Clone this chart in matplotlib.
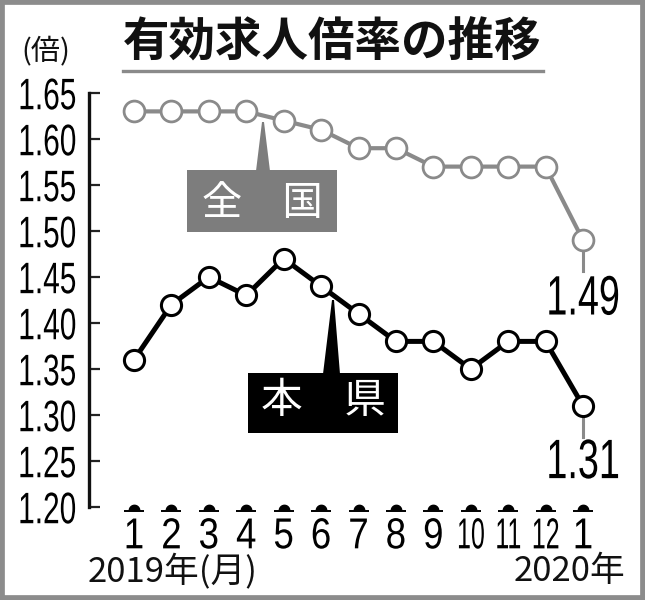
import matplotlib
matplotlib.use("Agg")
import matplotlib.pyplot as plt
from matplotlib.patches import Rectangle, Polygon
from matplotlib.path import Path
from matplotlib.lines import Line2D
from matplotlib.patheffects import AbstractPathEffect
from matplotlib.transforms import Affine2D, offset_copy
import numpy as np

# ---- data ----
months = list(range(1, 14))
month_labels = ["1", "2", "3", "4", "5", "6", "7", "8", "9", "10", "11", "12", "1"]
national = [1.63, 1.63, 1.63, 1.63, 1.62, 1.61, 1.59, 1.59, 1.57, 1.57, 1.57, 1.57, 1.49]
prefecture = [1.36, 1.42, 1.45, 1.43, 1.47, 1.44, 1.41, 1.38, 1.38, 1.35, 1.38, 1.38, 1.31]
yticks = [1.20, 1.25, 1.30, 1.35, 1.40, 1.45, 1.50, 1.55, 1.60, 1.65]
ytick_labels = ["1.20", "1.25", "1.30", "1.35", "1.40", "1.45", "1.50", "1.55", "1.60", "1.65"]
title = "有効求人倍率の推移"
unit = "(倍)"
label_nat = "全　国"
label_pref = "本　県"
x_left_note = "2019年(月)"
x_right_note = "2020年"

CJK = ["Noto Sans CJK JP", "DejaVu Sans"]
NUM = ["Liberation Sans", "DejaVu Sans"]


class Stretch(AbstractPathEffect):
    """Draw text with a tall, condensed look, keeping it a Text artist."""

    def __init__(self, sx, sy, anchor="center"):
        super().__init__()
        self.sx = sx
        self.sy = sy
        self.anchor = anchor

    def draw_path(self, renderer, gc, tpath, affine, rgbFace=None):
        ext = tpath.get_extents()
        if self.anchor == "left":
            cx = ext.x0
        elif self.anchor == "right":
            cx = ext.x1
        else:
            cx = (ext.x0 + ext.x1) / 2
        cy = (ext.y0 + ext.y1) / 2
        t = (Affine2D().translate(-cx, -cy).scale(self.sx, self.sy).translate(cx, cy)
             + affine)
        renderer.draw_path(gc, tpath, t, rgbFace)


W, H = 645, 600
fig = plt.figure(figsize=(W / 100, H / 100), dpi=100)
fig.patch.set_facecolor("white")

left_px, right_px, top_px, bot_px = 89, 620, 93, 507
ax = fig.add_axes([left_px / W, 1 - bot_px / H, (right_px - left_px) / W, (bot_px - top_px) / H])
x1_px, x13_px = 134, 583
step = (x13_px - x1_px) / 12
ax.set_xlim(1 - (x1_px - left_px) / step, 1 + (right_px - x1_px) / step)
ax.set_ylim(1.20, 1.65)
ax.patch.set_alpha(0)

for s in ["top", "right", "bottom"]:
    ax.spines[s].set_visible(False)
ax.spines["left"].set_linewidth(2.4)
ax.spines["left"].set_color("#111111")

ax.set_yticks(yticks)
ax.set_yticklabels(ytick_labels, fontfamily=NUM, fontsize=25)
ax.tick_params(axis="y", direction="in", length=8, width=1.6, color="#222222", pad=9)
for lbl in ax.get_yticklabels():
    lbl.set_path_effects([Stretch(0.86, 1.27, "right")])

ax.set_xticks(months)
ax.set_xticklabels(month_labels, fontfamily=NUM, fontsize=24)
ax.tick_params(axis="x", length=0, pad=10)
for lbl, txt in zip(ax.get_xticklabels(), month_labels):
    lbl.set_path_effects([Stretch(1.1 if len(txt) == 1 else 0.75, 1.3, "center")])

gray = "#8a8a8a"
ax.plot(months, national, color=gray, lw=3.0, zorder=3, clip_on=False)
ax.plot(months, national, linestyle="none", marker="o", markersize=15,
        markerfacecolor="white", markeredgecolor=gray, markeredgewidth=2.0, zorder=4, clip_on=False)
ax.plot(months, prefecture, color="black", lw=3.6, zorder=3, clip_on=False)
ax.plot(months, prefecture, linestyle="none", marker="o", markersize=14.5,
        markerfacecolor="white", markeredgecolor="black", markeredgewidth=2.2, zorder=4, clip_on=False)

# x tick decorations (small dome on a bar)
theta = np.linspace(0, np.pi, 20)
dome_verts = np.vstack([np.column_stack([np.cos(theta), np.sin(theta)]), [[-1, 0], [1, 0]]])
dome = Path(dome_verts)
tr_dome = offset_copy(ax.get_xaxis_transform(), fig=fig, y=-2.4, units="points")
tr_bar = offset_copy(ax.get_xaxis_transform(), fig=fig, y=-3.0, units="points")
ax.plot(months, [0] * len(months), linestyle="none", marker=dome, markersize=8.5,
        color="black", markeredgewidth=0, transform=tr_dome, clip_on=False)
ax.plot(months, [0] * len(months), linestyle="none", marker="_", markersize=14,
        markeredgewidth=1.4, color="black", transform=tr_bar, clip_on=False)


def px2x(px):
    return 1 + (px - x1_px) / step


def py2y(py):
    return 1.65 - (py - top_px) / (bot_px - top_px) * 0.45


# national label box
box_gray = "#7d7d7d"
ax.add_patch(Rectangle((px2x(187), py2y(232)), px2x(337) - px2x(187), py2y(170) - py2y(232),
                       facecolor=box_gray, edgecolor="none", zorder=5, clip_on=False))
ax.add_patch(Polygon([(px2x(256), py2y(171)), (px2x(270), py2y(171)), (px2x(264), py2y(122)),
                      (px2x(262), py2y(122))], closed=True, facecolor=box_gray,
                     edgecolor="none", zorder=5, clip_on=False))
ax.text(px2x(262), py2y(203), label_nat, fontfamily=CJK, fontsize=29, fontweight="normal",
        color="white", ha="center", va="center", zorder=6)

# prefecture label box
ax.add_patch(Rectangle((px2x(248), py2y(433)), px2x(398) - px2x(248), py2y(373) - py2y(433),
                       facecolor="black", edgecolor="none", zorder=5, clip_on=False))
ax.add_patch(Polygon([(px2x(323), py2y(374)), (px2x(340), py2y(374)), (px2x(334), py2y(300)),
                      (px2x(332), py2y(300))], closed=True, facecolor="black",
                     edgecolor="none", zorder=5, clip_on=False))
ax.text(px2x(323), py2y(401), label_pref, fontfamily=CJK, fontsize=30, fontweight="normal",
        color="white", ha="center", va="center", zorder=6)

# end value labels
for val, off in [(national[-1], 59), (prefecture[-1], 57)]:
    ax.plot([months[-1], months[-1]], [val - 0.011, val - 0.034], color=gray, lw=2.2,
            zorder=2, clip_on=False)
    t = ax.annotate(f"{val:.2f}", xy=(months[-1], val), xytext=(0, -off * 0.72),
                    textcoords="offset points", ha="center", va="center",
                    fontfamily=NUM, fontsize=32, color="black", zorder=6)
    t.set_path_effects([Stretch(0.85, 1.25, "center")])

# title & texts
fig.text(123 / W, 1 - 43 / H, title, fontfamily=CJK, fontsize=33.5, fontweight="bold",
         ha="left", va="center", color="#111111")
fig.add_artist(Line2D([123 / W, 543 / W], [1 - 71 / H, 1 - 71 / H], color="#8a8a8a", lw=2.4))
fig.text(46 / W, 1 - 51 / H, unit, fontfamily=CJK, fontsize=21, ha="center", va="center",
         color="#111111")
fig.text(88 / W, 1 - 572 / H, x_left_note, fontfamily=CJK, fontsize=25, ha="left",
         va="center", color="#111111")
fig.text(625 / W, 1 - 572 / H, x_right_note, fontfamily=CJK, fontsize=25, ha="right",
         va="center", color="#111111")

# frame border
fig.add_artist(Rectangle((0, 0), 1, 1, transform=fig.transFigure, fill=False,
                         edgecolor="#8c8c8c", lw=7))

fig.savefig("out.png", dpi=100, facecolor="white")
